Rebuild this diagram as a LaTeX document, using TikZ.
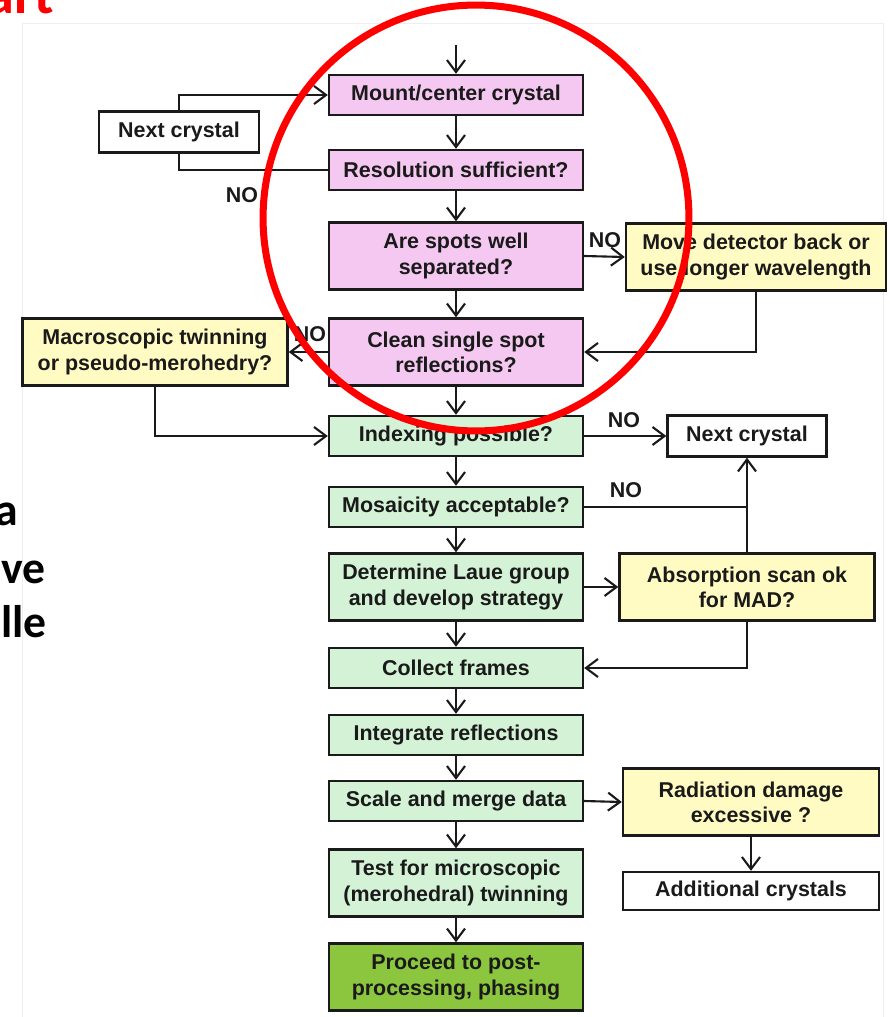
\documentclass[tikz,border=0pt]{standalone}
\usepackage{fontspec}
\usetikzlibrary{arrows.meta}
\newfontfamily\boxfont{Liberation Sans}
\newfontfamily\slidefont{Carlito}
\definecolor{ink}{HTML}{1A1A1A}
\definecolor{mountpink}{HTML}{F4C8F0}
\definecolor{procgreen}{HTML}{D4F2D6}
\definecolor{askyellow}{HTML}{FFFBC2}
\definecolor{donegreen}{HTML}{8CC63F}
\definecolor{ringred}{HTML}{FF0000}
\definecolor{scanedge}{HTML}{EEEEEE}
\tikzset{
  stage/.style  = {draw=ink, line width=1.4pt, inner sep=0pt, align=center,
                   minimum width=5.08cm, minimum height=0.8cm, text=ink,
                   font=\boxfont\bfseries\fontsize{12.2}{14.4}\selectfont},
  twoline/.style = {minimum height=1.34cm},
  sample/.style = {stage, fill=mountpink},
  proc/.style   = {stage, fill=procgreen},
  ask/.style    = {stage, fill=askyellow},
  spare/.style  = {stage, fill=white},
  finish/.style = {stage, fill=donegreen},
  flow/.style   = {->, draw=ink, line width=1.2pt,
                   >={Straight Barb[length=2.4mm,width=3.6mm]}},
  link/.style   = {draw=ink, line width=1.2pt},
  nolbl/.style  = {inner sep=0pt, text=ink, font=\boxfont\bfseries\fontsize{12.2}{14.4}\selectfont},
  slide/.style  = {inner sep=0pt, anchor=base east,
                   font=\slidefont\bfseries\fontsize{26}{30}\selectfont},
}
\begin{document}
\begin{tikzpicture}[x=0.02cm,y=-0.02cm]
  \useasboundingbox (0,0) rectangle (889,1017);
  % faint edge of the scanned page
  \draw[scanedge, line width=0.5pt] (22,1017) -- (22,23) -- (883,23) -- (883,1017);

  % slide text around the figure
  \node[slide, text=ringred, font=\slidefont\bfseries\fontsize{32}{36}\selectfont]
    (ttl) at (54,14) {art};
  \node[slide] (ln1) at (18,525) {a};
  \node[slide] (ln2) at (46,583) {ve};
  \node[slide] (ln3) at (47,637) {lle};

  % main column
  \coordinate (feed) at (456,45);
  \node[sample] (mount) at (456,95) {Mount/center crystal};
  \node[sample] (res) at (456,170) {Resolution sufficient?};
  \node[sample, twoline] (spots) at (456,256) {Are spots well\\separated?};
  \node[sample, twoline] (clean) at (456,352) {Clean single spot\\reflections?};
  \node[proc] (index) at (456,436) {Indexing possible?};
  \node[proc] (mosaic) at (456,507) {Mosaicity acceptable?};
  \node[proc, twoline] (laue) at (456,587) {Determine Laue group\\and develop strategy};
  \node[proc] (collect) at (456,668) {Collect frames};
  \node[proc] (integ) at (456,735) {Integrate reflections};
  \node[proc] (scale) at (456,801) {Scale and merge data};
  \node[proc, twoline] (twin) at (456,883) {Test for microscopic\\(merohedral) twinning};
  \node[finish, twoline] (post) at (456,977) {Proceed to post-\\processing, phasing};

  % side boxes
  \node[spare, minimum width=3.2cm, minimum height=0.82cm] (nexta) at (179,132) {Next crystal};
  \node[ask, twoline, minimum width=5.2cm] (detect) at (756,257) {Move detector back or\\use longer wavelength};
  \node[ask, twoline, minimum width=5.3cm] (macro) at (155,352) {Macroscopic twinning\\or pseudo-merohedry?};
  \node[spare, minimum width=3.18cm, minimum height=0.82cm] (nextb) at (747,436) {Next crystal};
  \node[ask, twoline, minimum width=5.1cm] (absorb) at (747,587) {Absorption scan ok\\for MAD?};
  \node[ask, twoline, minimum width=5.12cm] (rad) at (751,802) {Radiation damage\\excessive ?};
  \node[spare, minimum width=5.12cm, minimum height=0.76cm] (extra) at (751,891) {Additional crystals};

  % NO labels
  \node[nolbl] (no1) at (242,195) {NO};
  \node[nolbl] (no2) at (605,240) {NO};
  \node[nolbl] (no3) at (310,334) {NO};
  \node[nolbl] (no4) at (624,420) {NO};
  \node[nolbl] (no5) at (626,490) {NO};

  % straight down the main column
  \draw[flow] (feed) -- (mount);
  \foreach \a/\b in {mount/res, res/spots, spots/clean, clean/index, index/mosaic,
                     mosaic/laue, laue/collect, collect/integ, integ/scale,
                     scale/twin, twin/post}
    \draw[flow] (\a) -- (\b);

  % branches
  \draw[link] (res.west) -| (nexta.south);
  \draw[flow] (nexta.north) |- (mount.west);
  \draw[flow] (spots.east) -- (detect.west);
  \draw[flow] (detect.south) |- (clean.east);
  \draw[flow] (clean.west) -- (macro.east);
  \draw[flow] (macro.south) |- (index.west);
  \draw[flow] (index.east) -- (nextb.west);
  \draw[link] (mosaic.east) -- (mosaic.east -| absorb.north);
  \draw[flow] (absorb.north) -- (nextb.south);
  \draw[flow] (laue.east) -- (absorb.west);
  \draw[flow] (absorb.south) |- (collect.east);
  \draw[flow] (scale.east) -- (rad.west);
  \draw[flow] (rad.south) -- (extra.north);

  % red ring on top
  \draw[ringred, line width=4pt] (476,218) circle [radius=4.26cm];
\end{tikzpicture}
\end{document}
